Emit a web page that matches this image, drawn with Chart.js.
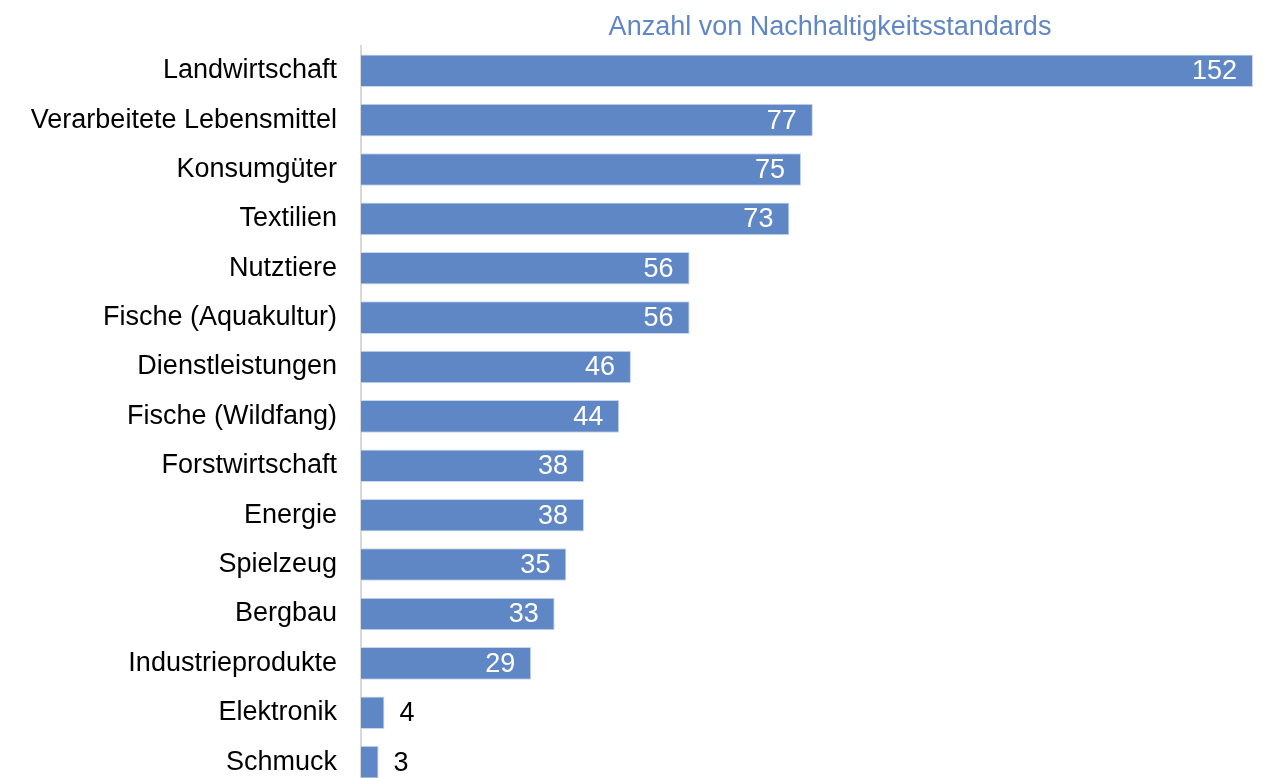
<!DOCTYPE html>
<html lang="de">
<head>
    <meta charset="UTF-8">
    <title>Anzahl von Nachhaltigkeitsstandards</title>
    <style>
        html, body { margin: 0; padding: 0; background: #fff; overflow: hidden; }
        canvas { display: block; }
    </style>
</head>
<body>
<canvas id="standardsChart" width="1262" height="827"></canvas>

<script src="https://cdn.jsdelivr.net/npm/chart.js"></script>
<script>
    const chartTitle = 'Anzahl von Nachhaltigkeitsstandards';
    const sectors = [
        'Landwirtschaft', 'Verarbeitete Lebensmittel', 'Konsumgüter', 'Textilien',
        'Nutztiere', 'Fische (Aquakultur)', 'Dienstleistungen', 'Fische (Wildfang)',
        'Forstwirtschaft', 'Energie', 'Spielzeug', 'Bergbau',
        'Industrieprodukte', 'Elektronik', 'Schmuck'
    ];
    const standardCounts = [152, 77, 75, 73, 56, 56, 46, 44, 38, 38, 35, 33, 29, 4, 3];

    const barColor = '#6087c5';
    const fontFamily = "'Liberation Sans', Arial, sans-serif";
    const fontSize = 27;

    // value labels: white inside the bar, black after short bars
    const valueLabels = {
        id: 'valueLabels',
        afterDatasetsDraw(chart) {
            const ctx = chart.ctx;
            const meta = chart.getDatasetMeta(0);
            ctx.save();
            ctx.font = fontSize + 'px ' + fontFamily;
            ctx.textBaseline = 'middle';
            meta.data.forEach((bar, i) => {
                const txt = String(standardCounts[i]);
                const w = bar.x - bar.base;
                if (w > 60) {
                    ctx.fillStyle = '#ffffff';
                    ctx.textAlign = 'right';
                    ctx.fillText(txt, bar.x - 16, bar.y + 1);
                } else {
                    ctx.fillStyle = '#000000';
                    ctx.textAlign = 'left';
                    ctx.fillText(txt, bar.x + 15, bar.y + 1);
                }
            });
            ctx.restore();
        }
    };

    const topTitle = {
        id: 'topTitle',
        afterDraw(chart) {
            const ctx = chart.ctx;
            ctx.save();
            ctx.font = fontSize + 'px ' + fontFamily;
            ctx.fillStyle = barColor;
            ctx.textAlign = 'center';
            ctx.textBaseline = 'middle';
            ctx.fillText(chartTitle, 830, 28);
            ctx.restore();
        }
    };

    const ctx = document.getElementById('standardsChart').getContext('2d');
    new Chart(ctx, {
        type: 'bar',
        data: {
            labels: sectors,
            datasets: [{
                label: chartTitle,
                data: standardCounts,
                backgroundColor: barColor,
                borderColor: '#c9d7ee',
                borderWidth: 1,
                barPercentage: 0.66,
                categoryPercentage: 1.0
            }]
        },
        options: {
            indexAxis: 'y',
            responsive: false,
            animation: false,
            layout: { padding: { top: 46, right: 9, bottom: 12, left: 0 } },
            plugins: {
                legend: { display: false },
                title: { display: false },
                tooltip: { enabled: false }
            },
            scales: {
                x: {
                    display: false,
                    min: 0,
                    max: 152
                },
                y: {
                    afterFit(scale) { scale.width = 361; },
                    grid: { display: false, drawTicks: false },
                    border: { display: true, color: '#d9d9d9', width: 2 },
                    ticks: {
                        padding: 24,
                        color: '#000000',
                        font: { family: fontFamily, size: fontSize }
                    }
                }
            }
        },
        plugins: [valueLabels, topTitle]
    });
</script>
</body>
</html>
